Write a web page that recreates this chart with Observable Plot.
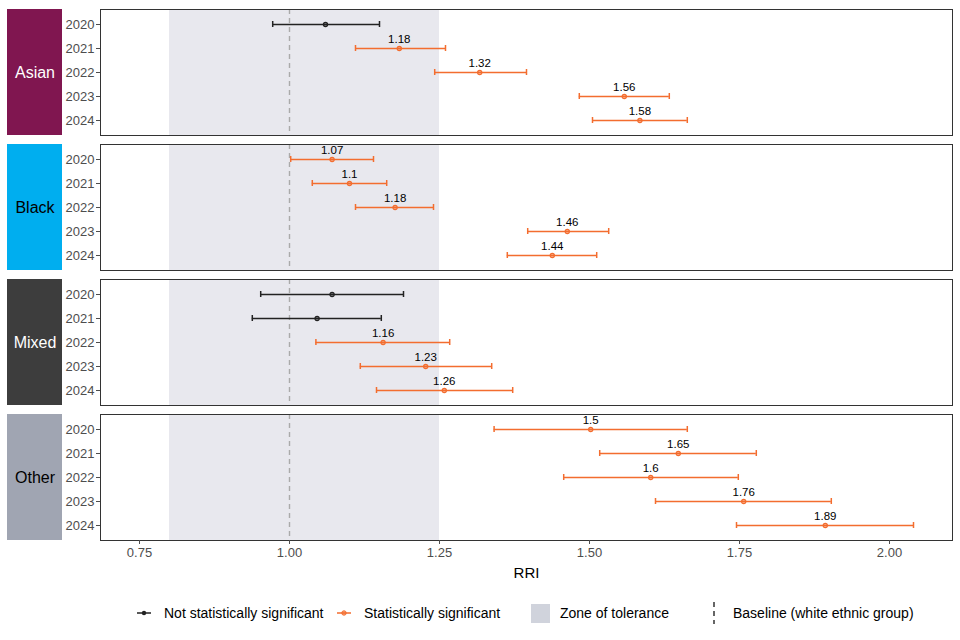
<!DOCTYPE html>
<html>
<head>
<meta charset="utf-8">
<script src="https://cdn.jsdelivr.net/npm/d3@7"></script>
<script src="https://cdn.jsdelivr.net/npm/@observablehq/plot@0.6"></script>
<style>
  body { margin: 0; background: #fff; font-family: "Liberation Sans", Arial, sans-serif; }
  #chart { width: 960px; }
  #legend { position: relative; width: 960px; height: 50px; font-size: 14px; color: #000; }
  #legend .item { position: absolute; top: 0; height: 46px; display: flex; align-items: center; }
  #legend svg { display: block; }
</style>
</head>
<body>
<div id="chart"></div>
<div id="legend"></div>
<script>
const groups = ["Asian", "Black", "Mixed", "Other"];
const years = ["2020", "2021", "2022", "2023", "2024"];
const stripFill = ["#801650", "#00AEEF", "#3D3D3D", "#A0A5B2"];
const stripText = ["#ffffff", "#000000", "#ffffff", "#000000"];

const rriAsian = [1.06, 1.183, 1.317, 1.558, 1.584];
const loAsian  = [0.972, 1.11, 1.242, 1.483, 1.505];
const hiAsian  = [1.15, 1.26, 1.395, 1.633, 1.663];
const sigAsian = [false, true, true, true, true];

const rriBlack = [1.071, 1.1, 1.176, 1.463, 1.438];
const loBlack  = [1.002, 1.038, 1.11, 1.397, 1.363];
const hiBlack  = [1.14, 1.162, 1.24, 1.532, 1.512];
const sigBlack = [true, true, true, true, true];

const rriMixed = [1.071, 1.046, 1.156, 1.227, 1.258];
const loMixed  = [0.952, 0.938, 1.044, 1.118, 1.145];
const hiMixed  = [1.19, 1.153, 1.267, 1.337, 1.372];
const sigMixed = [false, false, true, true, true];

const rriOther = [1.502, 1.648, 1.602, 1.757, 1.893];
const loOther  = [1.341, 1.517, 1.457, 1.61, 1.745];
const hiOther  = [1.663, 1.778, 1.748, 1.903, 2.04];
const sigOther = [true, true, true, true, true];

const xTicks = [0.75, 1.0, 1.25, 1.5, 1.75, 2.0];
const zone = [{x1: 0.8, x2: 1.25}];
const baseline = [1.0];

const ORANGE = "#F36D2F";
const DARK = "#222222";

const series = {
  Asian: [rriAsian, loAsian, hiAsian, sigAsian],
  Black: [rriBlack, loBlack, hiBlack, sigBlack],
  Mixed: [rriMixed, loMixed, hiMixed, sigMixed],
  Other: [rriOther, loOther, hiOther, sigOther]
};
const rows = [];
for (const g of groups) {
  const [r, lo, hi, sig] = series[g];
  years.forEach((y, i) => rows.push({group: g, year: y, rri: r[i], lo: lo[i], hi: hi[i], sig: sig[i],
    label: sig[i] ? String(+r[i].toFixed(2)) : ""}));
}
const strips = groups.map((g, i) => ({group: g, fill: stripFill[i], text: stripText[i]}));
const colorOf = d => d.sig ? ORANGE : DARK;

const chart = Plot.plot({
  width: 960,
  height: 590,
  marginTop: 7,
  marginBottom: 48,
  marginLeft: 100,
  marginRight: 8,
  style: {fontFamily: "'Liberation Sans', Arial, sans-serif", fontSize: "13px", background: "#fff"},
  x: {domain: [0.685, 2.105]},
  y: {domain: years, paddingInner: 0.75, paddingOuter: 0.475},
  fy: {domain: groups, paddingInner: 0.066, paddingOuter: 0, axis: null},
  marks: [
    Plot.rect(zone, {x1: "x1", x2: "x2", fill: "#E8E8EE"}),
    Plot.ruleX(baseline, {stroke: "#AAAAAA", strokeWidth: 1.4, strokeDasharray: "5,4"}),
    Plot.rect(strips, {fy: "group", fill: "fill", insetLeft: -93, insetRight: 890}),
    Plot.text(strips, {fy: "group", text: "group", fill: "text", frameAnchor: "left", dx: -65.5, textAnchor: "middle", fontSize: 16}),
    Plot.frame({stroke: "#333333", strokeWidth: 1}),
    Plot.ruleY(rows, {fy: "group", y: "year", x1: "lo", x2: "hi", stroke: colorOf, strokeWidth: 1.5}),
    Plot.tickX(rows, {fy: "group", y: "year", x: "lo", stroke: colorOf, strokeWidth: 1.5}),
    Plot.tickX(rows, {fy: "group", y: "year", x: "hi", stroke: colorOf, strokeWidth: 1.5}),
    Plot.dot(rows, {fy: "group", y: "year", x: "rri", r: 2.1, stroke: colorOf, fill: colorOf, fillOpacity: 0.5, strokeWidth: 1.2}),
    Plot.text(rows, {fy: "group", y: "year", x: "rri", text: "label", dy: -9, fontSize: 11.5, fill: "#000"}),
    Plot.axisY({tickSize: 4, tickPadding: 2, fontSize: 13, color: "#4D4D4D", label: null}),
    Plot.axisX({ticks: xTicks, tickFormat: d3.format(".2f"), tickSize: 4, tickPadding: 3, fontSize: 13, color: "#4D4D4D", label: null}),
    Plot.axisX({ticks: [], tickSize: 0, label: "RRI", labelAnchor: "center", labelArrow: "none", labelOffset: 37, fontSize: 15, color: "#000"})
  ]
});
document.getElementById("chart").appendChild(chart);

// legend
const legend = d3.select("#legend");
function item(left, keyW, keyH, drawKey, text, gap) {
  const it = legend.append("div").attr("class", "item").style("left", left + "px");
  const svg = it.append("svg").attr("width", keyW).attr("height", keyH);
  drawKey(svg);
  it.append("span").style("margin-left", gap + "px").text(text);
}
item(136, 16, 12, s => {
  s.append("line").attr("x1", 1).attr("x2", 15).attr("y1", 6).attr("y2", 6).attr("stroke", DARK).attr("stroke-width", 1.5);
  s.append("circle").attr("cx", 8).attr("cy", 6).attr("r", 2.2).attr("fill", DARK);
}, "Not statistically significant", 12);
item(336, 16, 12, s => {
  s.append("line").attr("x1", 1).attr("x2", 15).attr("y1", 6).attr("y2", 6).attr("stroke", ORANGE).attr("stroke-width", 1.5);
  s.append("circle").attr("cx", 8).attr("cy", 6).attr("r", 2.2).attr("fill", ORANGE).attr("fill-opacity", 0.6).attr("stroke", ORANGE);
}, "Statistically significant", 12);
item(531, 19, 19, s => {
  s.append("rect").attr("width", 19).attr("height", 19).attr("fill", "#D0D3DC");
}, "Zone of tolerance", 10);
item(706, 16, 22, s => {
  s.append("line").attr("x1", 8).attr("x2", 8).attr("y1", 0).attr("y2", 22).attr("stroke", "#000").attr("stroke-width", 1.2).attr("stroke-dasharray", "5,4");
}, "Baseline (white ethnic group)", 11);
</script>
</body>
</html>
